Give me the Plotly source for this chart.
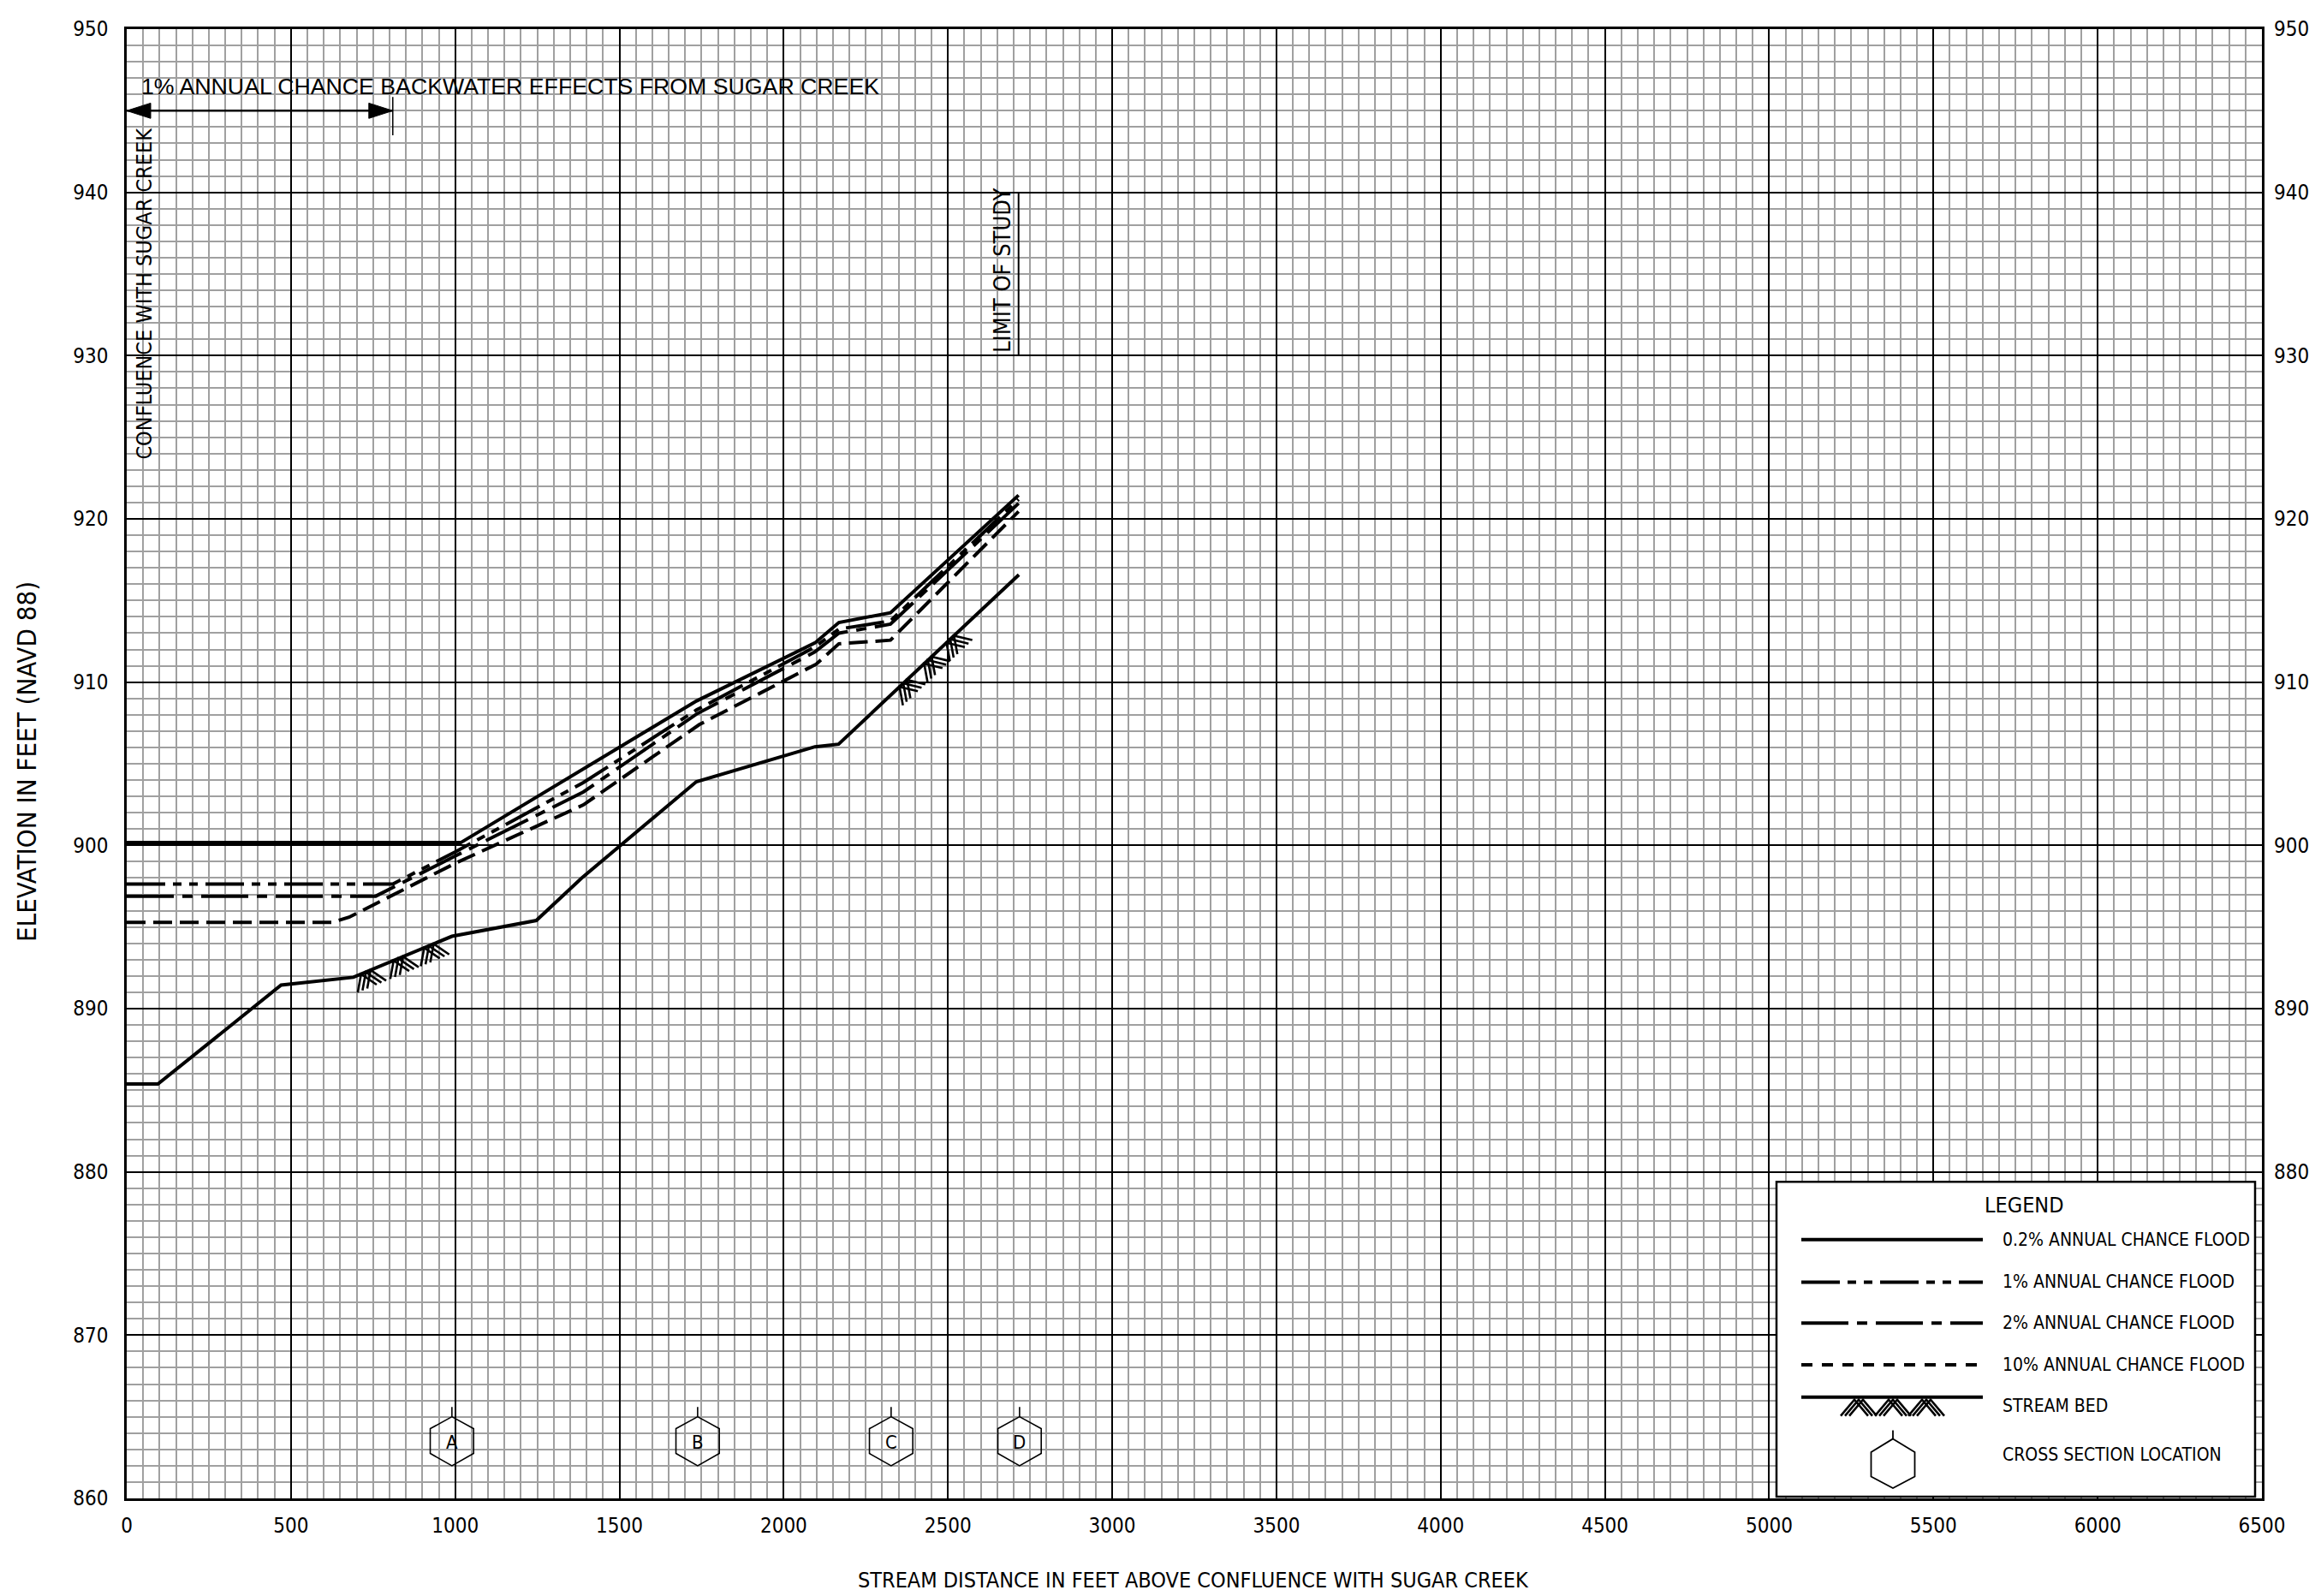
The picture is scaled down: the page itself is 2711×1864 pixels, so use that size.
import numpy as np
import plotly.graph_objects as go

sta_02 = [0, 1017, 1735, 2095, 2168, 2325, 2715]
elev_02 = [900.17, 900.17, 908.85, 912.40, 913.65, 914.25, 921.45]

sta_1 = [0, 810, 1000, 1390, 1735, 2095, 2168, 2325, 2715]
elev_1 = [897.63, 897.63, 899.60, 903.85, 908.30, 912.15, 913.25, 913.75, 921.20]

sta_2 = [0, 758, 1000, 1390, 1735, 2095, 2168, 2325, 2715]
elev_2 = [896.89, 896.89, 899.35, 903.27, 908.05, 911.85, 913.00, 913.55, 920.95]

sta_10 = [0, 624, 677, 1000, 1390, 1743, 2099, 2168, 2325, 2715]
elev_10 = [895.28, 895.28, 895.60, 898.90, 902.48, 907.40, 911.10, 912.35, 912.57, 920.45]

sta_bed = [0, 95, 470, 690, 990, 1247, 1385, 1734, 2095, 2167, 2716]
elev_bed = [885.38, 885.38, 891.44, 891.92, 894.43, 895.40, 898.00, 903.90, 906.04, 906.20, 916.58]

bed_hatch_stations = [728, 827, 920, 2364, 2439, 2507]

xs_stations = [990, 1738, 2327, 2718]
xs_letters = ["A", "B", "C", "D"]

backwater_start = 0
backwater_end = 810
limit_of_study = 2715

x_ticks = list(range(0, 6501, 500))
y_ticks_left = list(range(860, 951, 10))
y_ticks_right = list(range(880, 951, 10))

legend_labels = ["0.2% ANNUAL CHANCE FLOOD", "1% ANNUAL CHANCE FLOOD",
                 "2% ANNUAL CHANCE FLOOD", "10% ANNUAL CHANCE FLOOD",
                 "STREAM BED", "CROSS SECTION LOCATION"]

# ---------------- layout geometry ----------------
W, H = 2703, 1856
ML, MR, MT, MB = 140, 69, 16, 114
PW = W - ML - MR
PH = H - MT - MB
PLOT_L = 8 + ML     # plot left in window pixels (8px page margin)
PLOT_T = 8 + MT     # plot top in window pixels
XMIN, XMAX = 0, 6500
YMIN, YMAX = 860, 950
SX = PW / (XMAX - XMIN)   # px per ft (x)
SY = PH / (YMAX - YMIN)   # px per ft (elevation)

NARROW = "Liberation Sans Narrow, Arial Narrow, DejaVu Sans Condensed, Roboto Condensed, sans-serif"
REG = "Liberation Sans, Arial, sans-serif"

DASH_1 = "45px,9px,10px,9px,10px,9px"
DASH_2 = "55px,10px,12px,10px"
DASH_10 = "22px,9px"
LW = 4


def pxX(px):
    return (px - PLOT_L) / PW


def pxY(py):
    return 1 - (py - PLOT_T) / PH


fig = go.Figure()

# water surface profiles
fig.add_trace(go.Scatter(x=sta_02, y=elev_02, mode="lines",
                         line=dict(color="black", width=LW), hoverinfo="skip", showlegend=False))
fig.add_trace(go.Scatter(x=sta_1, y=elev_1, mode="lines",
                         line=dict(color="black", width=LW, dash=DASH_1), hoverinfo="skip", showlegend=False))
fig.add_trace(go.Scatter(x=sta_2, y=elev_2, mode="lines",
                         line=dict(color="black", width=LW, dash=DASH_2), hoverinfo="skip", showlegend=False))
fig.add_trace(go.Scatter(x=sta_10, y=elev_10, mode="lines",
                         line=dict(color="black", width=LW, dash=DASH_10), hoverinfo="skip", showlegend=False))
fig.add_trace(go.Scatter(x=sta_bed, y=elev_bed, mode="lines",
                         line=dict(color="black", width=LW), hoverinfo="skip", showlegend=False))


# stream-bed hatching (chevrons attached to the bed line)
def chevrons(stations, elev, apexes, L=22, theta=33, gap=6, copies=3):
    hx, hy = [], []
    th = np.radians(theta)
    st = np.array(stations, float)
    el = np.array(elev, float)
    for s in apexes:
        i = int(np.clip(np.searchsorted(st, s) - 1, 0, len(st) - 2))
        slope = (el[i + 1] - el[i]) / (st[i + 1] - st[i])
        t = np.array([SX, slope * SY])
        t /= np.linalg.norm(t)
        n = np.array([t[1], -t[0]])
        d1 = n * np.cos(th) - t * np.sin(th)
        d2 = n * np.cos(th) + t * np.sin(th)
        P0 = np.array([s * SX, np.interp(s, st, el) * SY])
        for k in range(copies):
            P = P0 + t * gap * (k - 1)
            for p in (P + L * d1, P, P + L * d2):
                hx.append(p[0] / SX)
                hy.append(p[1] / SY)
            hx.append(None)
            hy.append(None)
    return hx, hy


hx, hy = chevrons(sta_bed, elev_bed, bed_hatch_stations)
fig.add_trace(go.Scatter(x=hx, y=hy, mode="lines", line=dict(color="black", width=2.6),
                         hoverinfo="skip", showlegend=False))

# cross-section hexagons
HEX_HW = 66
HEX_Y = [865.0, 864.27, 862.75, 862.0, 862.75, 864.27, 865.0]
HEX_DX = [0, HEX_HW, HEX_HW, 0, -HEX_HW, -HEX_HW, 0]
hex_x, hex_y = [], []
for s in xs_stations:
    hex_x += [s + d for d in HEX_DX] + [None, s, s, None]
    hex_y += HEX_Y + [None, 865.0, 865.6, None]
fig.add_trace(go.Scatter(x=hex_x, y=hex_y, mode="lines", line=dict(color="black", width=1.6),
                         hoverinfo="skip", showlegend=False))

# invisible trace for right axis
fig.add_trace(go.Scatter(x=[None], y=[None], yaxis="y2", showlegend=False, hoverinfo="skip"))

annotations = []
for s, lab in zip(xs_stations, xs_letters):
    annotations.append(dict(x=s, y=863.45, xref="x", yref="y", xanchor="center", yanchor="middle",
                            text=lab, showarrow=False,
                            font=dict(family=NARROW, size=22, color="black")))

# text annotations on plot
annotations.append(dict(x=40, y=946.5, xref="x", yref="y", xanchor="left", yanchor="middle",
                        text="1% ANNUAL CHANCE BACKWATER EFFECTS FROM SUGAR CREEK", showarrow=False,
                        font=dict(family=REG, size=26.7, color="black")))
annotations.append(dict(x=54, y=933.8, xref="x", yref="y", xanchor="center", yanchor="middle",
                        text="CONFLUENCE WITH SUGAR CREEK",
                        textangle=-90, showarrow=False, font=dict(family=NARROW, size=25, color="black")))
annotations.append(dict(x=limit_of_study - 52, y=935.2, xref="x", yref="y", xanchor="center",
                        yanchor="middle", text="LIMIT OF STUDY",
                        textangle=-90, showarrow=False, font=dict(family=NARROW, size=27, color="black")))

# axis titles
annotations.append(dict(x=pxX(31), y=pxY(885), xref="paper", yref="paper", xanchor="center",
                        yanchor="middle", text="ELEVATION IN FEET (NAVD 88)",
                        textangle=-90, showarrow=False, font=dict(family=NARROW, size=31, color="black")))
annotations.append(dict(x=pxX(1394), y=pxY(1846), xref="paper", yref="paper", xanchor="center",
                        yanchor="middle",
                        text="STREAM DISTANCE IN FEET ABOVE CONFLUENCE WITH SUGAR CREEK",
                        showarrow=False, font=dict(family=NARROW, size=25, color="black")))

shapes = []
# backwater arrow
ARR_Y = 945.0
HEAD_L = 28 / SX
HEAD_W = 9 / SY
shapes.append(dict(type="line", xref="x", yref="y", x0=backwater_start, x1=backwater_end,
                   y0=ARR_Y, y1=ARR_Y, line=dict(color="black", width=2.5), layer="above"))
shapes.append(dict(type="path", xref="x", yref="y",
                   path=f"M {backwater_start},{ARR_Y} L {backwater_start + HEAD_L},{ARR_Y + HEAD_W} "
                        f"L {backwater_start + HEAD_L},{ARR_Y - HEAD_W} Z",
                   fillcolor="black", line=dict(color="black", width=1), layer="above"))
shapes.append(dict(type="path", xref="x", yref="y",
                   path=f"M {backwater_end},{ARR_Y} L {backwater_end - HEAD_L},{ARR_Y + HEAD_W} "
                        f"L {backwater_end - HEAD_L},{ARR_Y - HEAD_W} Z",
                   fillcolor="black", line=dict(color="black", width=1), layer="above"))
shapes.append(dict(type="line", xref="x", yref="y", x0=backwater_end, x1=backwater_end,
                   y0=943.5, y1=945.85, line=dict(color="black", width=1.5), layer="above"))
# limit of study line
shapes.append(dict(type="line", xref="x", yref="y", x0=limit_of_study, x1=limit_of_study,
                   y0=930, y1=940, line=dict(color="black", width=2), layer="above"))

# ---------------- custom legend box ----------------
BX0, BX1, BY0, BY1 = 2075, 2634, 1378, 1748
shapes.append(dict(type="rect", xref="paper", yref="paper", x0=pxX(BX0), x1=pxX(BX1),
                   y0=pxY(BY1), y1=pxY(BY0), fillcolor="white",
                   line=dict(color="black", width=2.5), layer="above"))
annotations.append(dict(x=pxX(2364), y=pxY(1406), xref="paper", yref="paper", xanchor="center",
                        yanchor="middle", text="LEGEND",
                        showarrow=False, font=dict(family=NARROW, size=25, color="black")))
LX0, LX1 = 2104, 2316
rows = [1446, 1496, 1544, 1593]
dashes = ["solid", DASH_1, DASH_2, "13px,11px"]
for ry, dsh in zip(rows, dashes):
    shapes.append(dict(type="line", xref="paper", yref="paper", x0=pxX(LX0), x1=pxX(LX1),
                       y0=pxY(ry), y1=pxY(ry), line=dict(color="black", width=LW, dash=dsh), layer="above"))
# stream bed legend
shapes.append(dict(type="line", xref="paper", yref="paper", x0=pxX(LX0), x1=pxX(LX1),
                   y0=pxY(1631), y1=pxY(1631), line=dict(color="black", width=LW), layer="above"))
for cx in (2171, 2211, 2250):
    for k in range(3):
        ax = cx - 5 + 5 * k
        p = (f"M {pxX(ax - 16)},{pxY(1653)} L {pxX(ax)},{pxY(1634)} L {pxX(ax + 16)},{pxY(1653)}")
        shapes.append(dict(type="path", xref="paper", yref="paper", path=p,
                           line=dict(color="black", width=2.6), layer="above"))
# hexagon legend
hcx = 2211
hpts = [(hcx, 1680), (hcx + 25.5, 1695.6), (hcx + 25.5, 1724.4), (hcx, 1738),
        (hcx - 25.5, 1724.4), (hcx - 25.5, 1695.6)]
hp = "M " + " L ".join(f"{pxX(a)},{pxY(b)}" for a, b in hpts) + " Z"
shapes.append(dict(type="path", xref="paper", yref="paper", path=hp,
                   line=dict(color="black", width=1.8), layer="above"))
shapes.append(dict(type="line", xref="paper", yref="paper", x0=pxX(hcx), x1=pxX(hcx),
                   y0=pxY(1680), y1=pxY(1670), line=dict(color="black", width=1.8), layer="above"))
label_rows = [1446, 1496, 1544, 1593, 1641, 1699]
for lab, ry in zip(legend_labels, label_rows):
    annotations.append(dict(x=pxX(2337), y=pxY(ry), xref="paper", yref="paper", xanchor="left",
                            yanchor="middle", text=lab, showarrow=False,
                            font=dict(family=NARROW, size=21, color="black")))

tickfont = dict(family=NARROW, size=24, color="black")
fig.update_layout(
    width=W, height=H,
    margin=dict(l=ML, r=MR, t=MT, b=MB, pad=0),
    paper_bgcolor="white", plot_bgcolor="white",
    showlegend=False,
    xaxis=dict(range=[XMIN, XMAX], tickmode="array", tickvals=x_ticks, ticktext=[str(v) for v in x_ticks],
               showgrid=True, gridcolor="black", gridwidth=1.6,
               minor=dict(dtick=50, tick0=0, showgrid=True, gridcolor="#a0a0a0", gridwidth=1.5),
               showline=True, linecolor="black", linewidth=2.5, mirror=True,
               ticks="", zeroline=False, tickfont=tickfont, ticklabelstandoff=8),
    yaxis=dict(range=[YMIN, YMAX], tickmode="array", tickvals=y_ticks_left,
               showgrid=True, gridcolor="black", gridwidth=1.6,
               minor=dict(dtick=1, tick0=860, showgrid=True, gridcolor="#a0a0a0", gridwidth=1.5),
               showline=True, linecolor="black", linewidth=2.5, mirror=True,
               ticks="", zeroline=False, tickfont=tickfont, ticklabelstandoff=14),
    yaxis2=dict(range=[YMIN, YMAX], overlaying="y", side="right", anchor="x",
                tickmode="array", tickvals=y_ticks_right, showgrid=False, zeroline=False,
                showline=False, ticks="", tickfont=tickfont, ticklabelstandoff=13),
    annotations=annotations,
    shapes=shapes,
)

fig.write_html("out.html")
